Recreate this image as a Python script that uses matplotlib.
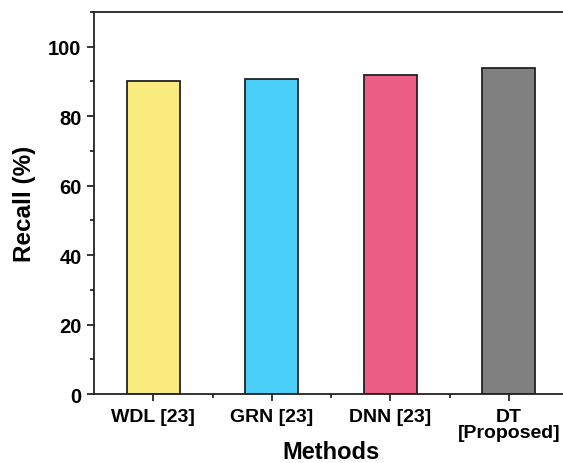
import matplotlib
matplotlib.use("Agg")
import matplotlib.pyplot as plt
from matplotlib.ticker import MultipleLocator, FixedLocator

methods = ["WDL [23]", "GRN [23]", "DNN [23]", "DT\n[Proposed]"]
recall = [90.1, 90.6, 91.9, 94.0]
colors = ["#FAEB7E", "#4ACFF9", "#EB5F87", "#808080"]

plt.rcParams['font.family'] = ['Liberation Sans', 'DejaVu Sans']
plt.rcParams['font.weight'] = 'bold'

fig = plt.figure(figsize=(5.63, 4.64), dpi=100)
ax = fig.add_axes([0.167, 0.1487, 1.009 - 0.167, 0.972 - 0.1487])

x = list(range(len(methods)))
ax.bar(x, recall, width=0.45, color=colors, edgecolor="#222222", linewidth=1.3, zorder=2)

ax.set_xlim(-0.5, 3.5)
ax.set_ylim(0, 110)
ax.set_xticks(x)
ax.set_xticklabels(methods, fontsize=14, fontweight='bold', linespacing=0.95)
ax.xaxis.set_minor_locator(FixedLocator([0.5, 1.5, 2.5]))
ax.yaxis.set_major_locator(MultipleLocator(20))
ax.yaxis.set_minor_locator(MultipleLocator(10))

ax.tick_params(axis='both', which='major', direction='out', length=5, width=1.1)
ax.tick_params(axis='both', which='minor', direction='out', length=3, width=1.1)
ax.tick_params(axis='y', which='major', labelsize=14.5, pad=4)
ax.tick_params(axis='x', which='major', labelsize=14, pad=5)
for lab in ax.get_yticklabels():
    lab.set_fontweight('bold')

for s in ax.spines.values():
    s.set_linewidth(1.3)
    s.set_color("#222222")

ax.set_xlabel("Methods", fontsize=17, fontweight='bold', labelpad=-1)
ax.set_ylabel("Recall (%)", fontsize=17.5, fontweight='bold', labelpad=9)

fig.savefig("out.png", dpi=100)
